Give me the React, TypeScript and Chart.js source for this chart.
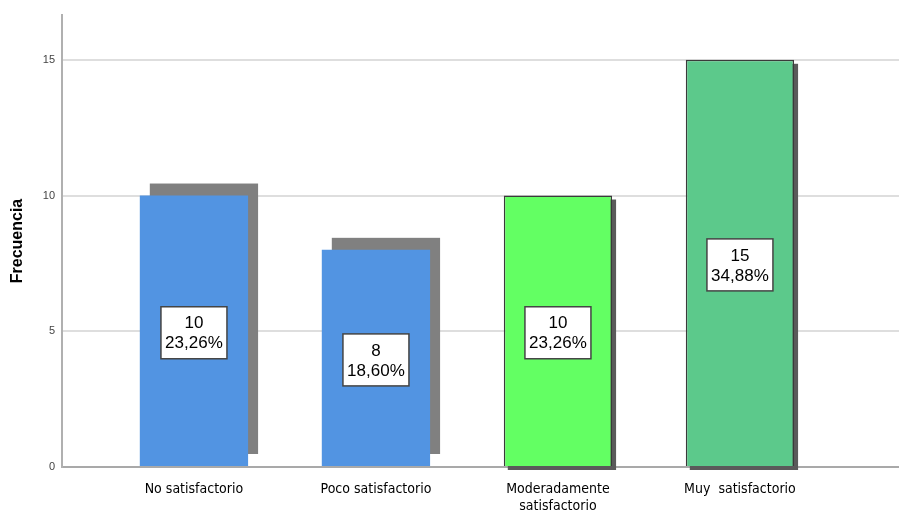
import React, { useEffect, useRef } from 'react';
import { Chart, registerables } from 'chart.js';

Chart.register(...registerables);

const categories: (string | string[])[] = [
  'No satisfactorio',
  'Poco satisfactorio',
  ['Moderadamente', 'satisfactorio'],
  'Muy  satisfactorio',
];
const frequencies = [10, 8, 10, 15];
const percentLabels = ['23,26%', '18,60%', '23,26%', '34,88%'];
const yTickValues = [0, 5, 10, 15];
const barColors = ['#5294E2', '#5294E2', '#63FF63', '#5CC98B'];
const barBorders = ['#5294E2', '#5294E2', '#3a3a3a', '#3a3a3a'];
const shadowKinds = ['raised', 'raised', 'drop', 'drop'];

const shadowPlugin = {
  id: 'barShadows',
  beforeDatasetsDraw(chart: any) {
    const ctx = chart.ctx;
    const meta = chart.getDatasetMeta(0);
    meta.data.forEach((bar: any, i: number) => {
      const { x, y, base, width } = bar.getProps(['x', 'y', 'base', 'width'], true);
      const left = x - width / 2;
      ctx.save();
      if (shadowKinds[i] === 'raised') {
        ctx.fillStyle = '#808080';
        ctx.fillRect(left + 10, y - 12, width, base - y);
      } else {
        ctx.fillStyle = '#5a5a5a';
        ctx.fillRect(left + 4, y + 4, width, base - y);
      }
      ctx.restore();
    });
  },
};

const labelPlugin = {
  id: 'boxLabels',
  afterDatasetsDraw(chart: any) {
    const ctx = chart.ctx;
    const meta = chart.getDatasetMeta(0);
    meta.data.forEach((bar: any, i: number) => {
      const { x, y, base } = bar.getProps(['x', 'y', 'base'], true);
      const cy = (y + base) / 2 + 2;
      const w = 66;
      const h = 52;
      ctx.save();
      ctx.fillStyle = '#ffffff';
      ctx.fillRect(x - w / 2, cy - h / 2, w, h);
      ctx.strokeStyle = '#444444';
      ctx.lineWidth = 1.5;
      ctx.strokeRect(x - w / 2, cy - h / 2, w, h);
      ctx.fillStyle = '#000000';
      ctx.font = '17px "Liberation Sans", Arial, sans-serif';
      ctx.textAlign = 'center';
      ctx.textBaseline = 'middle';
      ctx.fillText(String(frequencies[i]), x, cy - 9);
      ctx.fillText(percentLabels[i], x, cy + 11);
      ctx.restore();
    });
  },
};

export default function App() {
  const canvasRef = useRef<HTMLCanvasElement | null>(null);

  useEffect(() => {
    if (!canvasRef.current) return;
    const chart = new Chart(canvasRef.current, {
      type: 'bar',
      data: {
        datasets: [
          {
            data: frequencies.map((v, i) => ({ x: i, y: v })),
            backgroundColor: barColors,
            borderColor: barBorders,
            borderWidth: [0, 0, 1.5, 1.5],
            categoryPercentage: 1,
            barPercentage: 0.595,
          },
        ],
      },
      options: {
        animation: false,
        responsive: true,
        maintainAspectRatio: false,
        layout: { padding: { top: 15, left: 0, right: 0, bottom: 0 } },
        plugins: {
          legend: { display: false },
          tooltip: { enabled: false },
        },
        scales: {
          x: {
            type: 'linear',
            min: -0.725,
            max: 3.874,
            offset: false,
            grid: { display: false, offset: false },
            border: { display: true, color: '#a9a9a9', width: 2 },
            afterBuildTicks: (scale: any) => {
              scale.ticks = categories.map((_, i) => ({ value: i }));
            },
            afterFit: (scale: any) => {
              scale.height = 47;
            },
            ticks: {
              autoSkip: false,
              maxRotation: 0,
              padding: 6,
              color: '#000000',
              font: { family: '"DejaVu Sans Condensed", "Liberation Sans", Arial, sans-serif', size: 14 },
              callback: (value: any) => categories[Math.round(Number(value))] as any,
            },
          },
          y: {
            min: 0,
            max: 16.65,
            afterBuildTicks: (scale: any) => {
              scale.ticks = yTickValues.map((v) => ({ value: v }));
            },
            afterFit: (scale: any) => {
              scale.width = 62;
            },
            grid: { color: '#dedede', lineWidth: 2, drawTicks: false },
            border: { display: true, color: '#b0b0b0', width: 2 },
            ticks: {
              padding: 7,
              color: '#444444',
              font: { family: '"Liberation Sans", Arial, sans-serif', size: 11 },
            },
            title: {
              display: true,
              text: 'Frecuencia',
              color: '#000000',
              font: { family: '"Liberation Sans", Arial, sans-serif', size: 16, weight: 'bold' },
              padding: { top: 8, bottom: 2 },
            },
          },
        },
      },
      plugins: [shadowPlugin, labelPlugin],
    } as any);
    return () => chart.destroy();
  }, []);

  return (
    <div style={{ position: 'absolute', left: 0, top: 0, width: 899, height: 514, background: '#ffffff' }}>
      <canvas ref={canvasRef} />
    </div>
  );
}
